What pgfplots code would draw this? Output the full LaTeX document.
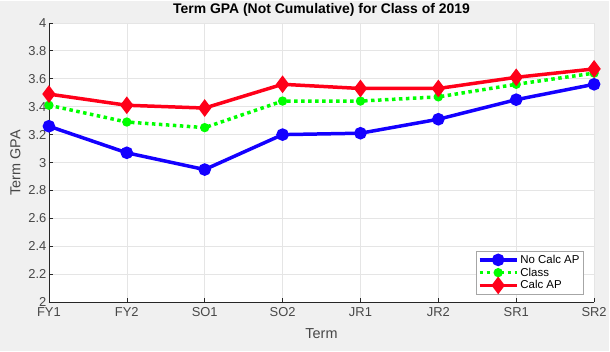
\documentclass[border=0pt]{standalone}
\usepackage{pgfplots}
\pgfplotsset{compat=1.18}
\usepackage{fontspec}
\setmainfont{Liberation Sans}
\definecolor{bgc}{RGB}{240,240,240}
\definecolor{tickc}{RGB}{38,38,38}
\definecolor{mblue}{RGB}{20,0,255}
\definecolor{mgreen}{RGB}{0,255,0}
\definecolor{mred}{RGB}{255,0,25}
\begin{document}
\begin{tikzpicture}[x=1bp,y=1bp]
\fill[bgc] (0,0) rectangle (610,351);
\begin{axis}[
  at={(49bp,49bp)}, anchor=south west,
  scale only axis, width=546bp, height=280bp,
  xmin=0, xmax=7, ymin=2, ymax=4,
  xtick={0,...,7},
  xticklabels={FY1,FY2,SO1,SO2,JR1,JR2,SR1,SR2},
  ytick={2,2.2,...,4.01},
  yticklabels={2,2.2,2.4,2.6,2.8,3,3.2,3.4,3.6,3.8,4},
  axis background/.style={fill=white},
  axis x line*=bottom, axis y line*=left,
  axis line style={tickc, line width=0.5bp},
  tick style={tickc, line width=0.5bp},
  tick align=inside,
  major tick length=4bp,
  grid=major,
  grid style={gray!20, line width=0.5bp},
  ticklabel style={font=\fontsize{13}{14}\selectfont, text=tickc!85},
  xticklabel style={yshift=-1.5bp},
  yticklabel style={xshift=1bp},
  /pgf/number format/assume math mode=true,
  title={\bfseries Term GPA (Not Cumulative) for Class of 2019},
  title style={font=\fontsize{14}{15}\selectfont, at={(0.5,1)}, yshift=-3bp, anchor=south},
  xlabel={Term}, ylabel={Term GPA},
  label style={font=\fontsize{14.5}{15}\selectfont, text=tickc!85},
  xlabel style={yshift=-5bp},
  ylabel style={yshift=1bp},
  legend style={at={(0.98,0.03)}, anchor=south east, font=\fontsize{11.5}{12}\selectfont,
    draw=gray!70, fill=white, row sep=-1bp, inner sep=1.5bp},
  legend cell align=left,
  legend image code/.code={
    \draw[#1] (0bp,0bp) -- (37bp,0bp);
    \draw[#1, solid] plot coordinates {(18.5bp,0bp)};},
]
\addplot[mblue, line width=3.5bp, mark=*, mark size=4.5bp] coordinates {
 (0,3.26) (1,3.07) (2,2.95) (3,3.20) (4,3.21) (5,3.31) (6,3.45) (7,3.56)};
\addlegendentry{No Calc AP}
\addplot[mgreen, line width=3.5bp, dash pattern=on 3.5bp off 3.5bp, mark=*, mark size=2.8bp, mark options={solid}] coordinates {
 (0,3.41) (1,3.29) (2,3.25) (3,3.44) (4,3.44) (5,3.47) (6,3.56) (7,3.64)};
\addlegendentry{Class}
\addplot[mred, line width=3.5bp, mark=diamond*, mark size=6bp, mark options={solid}] coordinates {
 (0,3.49) (1,3.41) (2,3.39) (3,3.56) (4,3.53) (5,3.53) (6,3.61) (7,3.67)};
\addlegendentry{Calc AP}
\end{axis}
\end{tikzpicture}
\end{document}
